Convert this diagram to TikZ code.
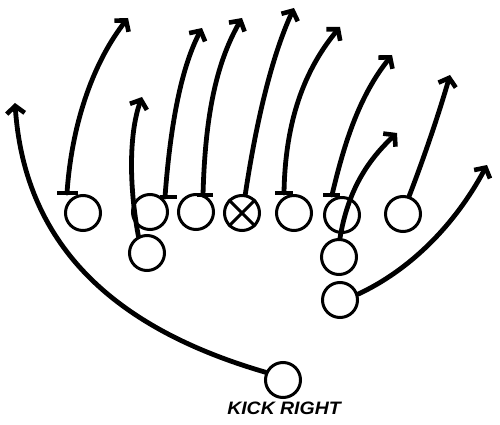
\documentclass[tikz,border=0pt]{standalone}
\usepackage{fontspec}
\newfontfamily\handfont{Liberation Sans}
\usetikzlibrary{arrows.meta}
\begin{document}
\begin{tikzpicture}[x=1pt,y=-1pt,
  player/.style={circle,draw,line width=3pt,minimum size=35pt,inner sep=0pt},
  route/.style={line width=4.8pt,line cap=round,-{Straight Barb[length=7.5pt,width=18pt,line width=4.6pt]}},
  blockbar/.style={line width=4.8pt}]
\useasboundingbox (0,0) rectangle (500,425);
% players
\node[player] (le) at (83,213) {};
\node[player] (lt) at (150,212) {};
\node[player] (lg) at (196,212) {};
\node[player] (c)  at (242,213) {};
\node[player] (rg) at (294,213) {};
\node[player] (rt) at (342,215) {};
\node[player] (re) at (403,214) {};
\node[player] (bl) at (147,253) {};
\node[player] (br) at (339,257) {};
\node[player] (bb) at (340,300) {};
\node[player] (kick) at (283,380) {};
\draw[line width=3pt] (c.45) -- (c.225) (c.135) -- (c.-45);
% block bars
\coordinate (leb) at (67,193);
\coordinate (ltb) at (165,197);
\coordinate (lgb) at (203,195);
\coordinate (rgb) at (284,193);
\coordinate (rtb) at (332,195);
\draw[blockbar] (57,193) -- (78,193);
\draw[blockbar] (160,197) -- (177,197);
\draw[blockbar] (197,195) -- (213,195);
\draw[blockbar] (275,193) -- (293,193);
\draw[blockbar] (323,195) -- (340,195);
% route ends
\coordinate (t1) at (15,103);
\coordinate (t2) at (128,18);
\coordinate (t3) at (142,97);
\coordinate (t4) at (202,28);
\coordinate (t5) at (242,18);
\coordinate (t6) at (294,8);
\coordinate (t7) at (340,27);
\coordinate (t8) at (392,55);
\coordinate (t9) at (397,133);
\coordinate (t10) at (450,75);
\coordinate (t11) at (487,165);
% routes
\draw[route] (kick.156) .. controls (120,330) and (25,250) .. (t1);
\draw[route] (leb) .. controls (72,120) and (95,60) .. (t2);
\draw[route] (bl.117) .. controls (128,180) and (130,130) .. (t3);
\draw[route] (ltb) .. controls (170,130) and (180,70) .. (t4);
\draw[route] (lgb) .. controls (205,120) and (215,65) .. (t5);
\draw[route] (c.80) .. controls (255,130) and (270,60) .. (t6);
\draw[route] (rgb) .. controls (285,130) and (300,75) .. (t7);
\draw[route] (rtb) .. controls (345,140) and (360,95) .. (t8);
\draw[route] (br.87) .. controls (348,190) and (368,160) .. (t9);
\draw[route] (re.71) .. controls (425,155) and (440,110) .. (t10);
\draw[route] (bb.18) .. controls (410,270) and (455,225) .. (t11);
% label
\node[font=\handfont\bfseries\itshape\fontsize{18}{18}\selectfont,inner sep=0pt] (lbl) at (284,408) {\scalebox{1.08}[1]{KICK RIGHT}};
\end{tikzpicture}
\end{document}
